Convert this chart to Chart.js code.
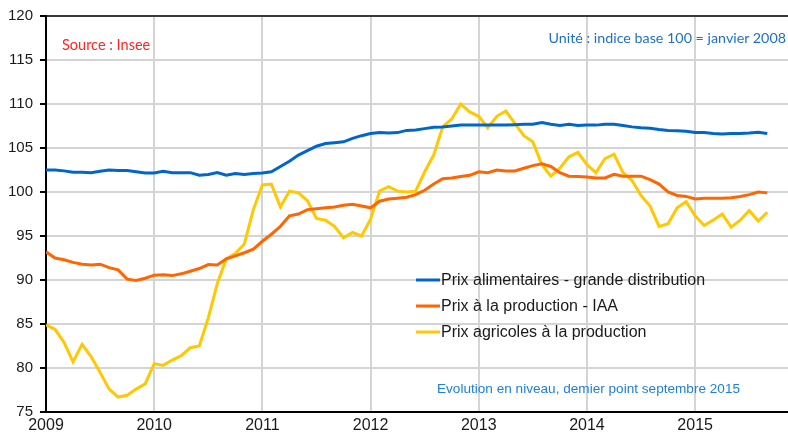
<!DOCTYPE html>
<html>
<head>
<meta charset="utf-8">
<script src="https://cdn.jsdelivr.net/npm/chart.js@4.4.1/dist/chart.umd.min.js"></script>
<style>
  body { margin: 0; background: #fff; }
  #wrap { position: relative; width: 788px; height: 434px; }
  #chart { position: absolute; left: 0; top: 0; }
  .note { position: absolute; white-space: nowrap; line-height: 16px; }
  #source { left: 62px; top: 36px; color: #ff2525; font: 14.5px Lato, "Open Sans", sans-serif; }
  #unit { right: 2px; top: 29px; color: #1f70c4; font: 14.3px Lato, "Open Sans", sans-serif; }
  #level { left: 437px; top: 381px; color: #1e80d6; font: 13.6px "Liberation Sans", Arial, sans-serif; }
</style>
</head>
<body>
<div id="wrap">
  <canvas id="chart" width="788" height="434"></canvas>
  <div class="note" id="source">Source : Insee</div>
  <div class="note" id="unit">Unité : indice base 100 = janvier 2008</div>
  <div class="note" id="level">Evolution en niveau, demier point septembre 2015</div>
</div>
<script>
// monthly data, Jan 2009 -> Sep 2015
const years = [2009, 2010, 2011, 2012, 2013, 2014, 2015];

const seriesNames = [
  'Prix alimentaires - grande distribution',
  'Prix à la production - IAA',
  'Prix agricoles à la production'
];

const prixDistribution = [
  102.5, 102.5, 102.4, 102.25, 102.25, 102.2, 102.35, 102.5, 102.45, 102.45, 102.3, 102.15,
  102.15, 102.35, 102.2, 102.2, 102.2, 101.9, 102.0, 102.2, 101.9, 102.1, 102.0, 102.1,
  102.15, 102.3, 102.9, 103.5, 104.2, 104.7, 105.2, 105.5, 105.6, 105.7, 106.1, 106.4,
  106.65, 106.75, 106.7, 106.75, 107.0, 107.05, 107.2, 107.35, 107.4, 107.5, 107.6, 107.6,
  107.6, 107.6, 107.6, 107.6, 107.65, 107.7, 107.7, 107.9, 107.7, 107.55, 107.7, 107.55,
  107.6, 107.6, 107.7, 107.7, 107.55, 107.4, 107.3, 107.25, 107.1, 107.0, 106.95, 106.9,
  106.75, 106.75, 106.65, 106.6, 106.65, 106.65, 106.7, 106.8, 106.65
];

const prixIAA = [
  93.2, 92.5, 92.3, 92.0, 91.8, 91.7, 91.8, 91.4, 91.15, 90.1, 89.95, 90.2,
  90.55, 90.6, 90.5, 90.7, 91.0, 91.3, 91.75, 91.7, 92.4, 92.75, 93.1, 93.5,
  94.4, 95.2, 96.1, 97.3, 97.5, 98.0, 98.1, 98.2, 98.3, 98.5, 98.6, 98.4,
  98.2, 98.95, 99.2, 99.3, 99.4, 99.7, 100.2, 100.9, 101.5, 101.6, 101.75, 101.9,
  102.3, 102.2, 102.5, 102.4, 102.4, 102.7, 103.0, 103.2, 102.9, 102.2, 101.8, 101.75,
  101.7, 101.6, 101.6, 102.0, 101.8, 101.8, 101.8, 101.4, 100.9, 100.0, 99.6, 99.5,
  99.2, 99.3, 99.3, 99.3, 99.35, 99.5, 99.7, 100.0, 99.9
];

const prixAgricoles = [
  84.9, 84.4, 82.9, 80.7, 82.7, 81.3, 79.5, 77.6, 76.7, 76.9, 77.6, 78.2,
  80.5, 80.3, 80.9, 81.4, 82.3, 82.5, 85.7, 89.6, 92.4, 93.0, 94.1, 98.0,
  100.8, 100.9, 98.3, 100.1, 99.9, 99.0, 97.0, 96.8, 96.1, 94.8, 95.4, 95.0,
  96.9, 100.1, 100.6, 100.1, 100.0, 100.1, 102.3, 104.2, 107.4, 108.3, 110.0, 109.1,
  108.6, 107.3, 108.6, 109.2, 107.8, 106.4, 105.7, 103.1, 101.8, 102.7, 104.0, 104.5,
  103.1, 102.2, 103.8, 104.3, 102.2, 101.3, 99.6, 98.4, 96.1, 96.4, 98.2, 98.9,
  97.3, 96.2, 96.8, 97.5, 96.0, 96.8, 97.9, 96.7, 97.7
];

const seriesColors = ['#0066cc', '#ff6600', '#ffc800'];

const toPoints = arr => arr.map((v, i) => ({ x: i, y: v }));

// legend drawn inside the plot, like the original
const insideLegend = {
  id: 'insideLegend',
  afterDatasetsDraw(chart) {
    const ctx = chart.ctx;
    ctx.save();
    ctx.font = '16px "Liberation Sans", Arial, sans-serif';
    ctx.textBaseline = 'middle';
    chart.data.datasets.forEach((ds, i) => {
      const y = 280 + i * 26;
      ctx.strokeStyle = ds.borderColor;
      ctx.lineWidth = 3;
      ctx.beginPath();
      ctx.moveTo(416, y);
      ctx.lineTo(440, y);
      ctx.stroke();
      ctx.fillStyle = '#1a1a1a';
      ctx.fillText(ds.label, 441, y + 1);
    });
    ctx.restore();
  }
};

const tickFont = { family: '"Liberation Sans", Arial, sans-serif', size: 15 };

new Chart(document.getElementById('chart').getContext('2d'), {
  type: 'line',
  data: {
    datasets: [prixDistribution, prixIAA, prixAgricoles].map((arr, i) => ({
      label: seriesNames[i],
      data: toPoints(arr),
      borderColor: seriesColors[i],
      backgroundColor: seriesColors[i],
      borderWidth: 3,
      pointRadius: 0,
      tension: 0,
      clip: 0
    }))
  },
  options: {
    responsive: false,
    animation: false,
    devicePixelRatio: 1,
    layout: { padding: { top: 11, right: 0, left: 0, bottom: 0 } },
    plugins: {
      legend: { display: false },
      tooltip: { enabled: false }
    },
    scales: {
      x: {
        type: 'linear',
        min: 0,
        max: 82.3,
        afterBuildTicks: scale => {
          scale.ticks = years.map((y, i) => ({ value: i * 12 }));
        },
        afterFit: scale => { scale.height = 22; },
        ticks: {
          font: { family: tickFont.family, size: 16 },
          color: '#1a1a1a',
          padding: 4,
          maxRotation: 0,
          callback: v => years[0] + v / 12
        },
        grid: { color: '#d4d4d4', lineWidth: 2, drawTicks: false },
        border: { color: '#000', width: 2 }
      },
      y: {
        min: 75,
        max: 120,
        afterFit: scale => { scale.width = 46; },
        ticks: { stepSize: 5, font: tickFont, color: '#1a1a1a', padding: 7 },
        grid: {
          color: c => (c.tick && c.tick.value === 120 ? '#3a3a3a' : '#d4d4d4'),
          lineWidth: 2,
          tickLength: 6,
          tickColor: '#000'
        },
        border: { color: '#000', width: 2 }
      }
    }
  },
  plugins: [insideLegend]
});
</script>
</body>
</html>
